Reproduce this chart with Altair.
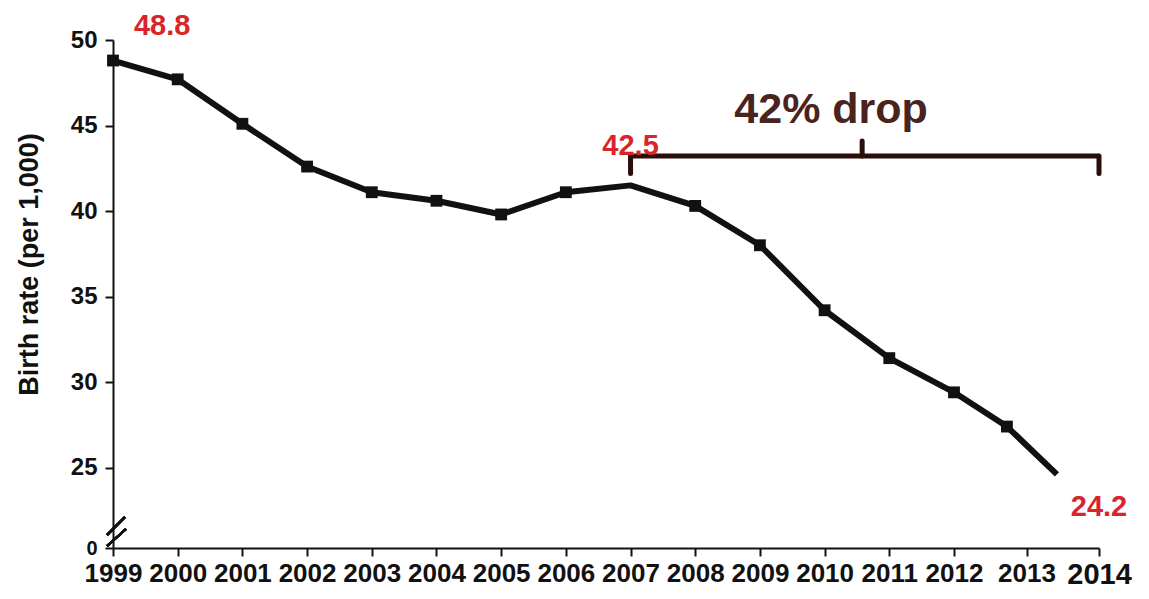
import altair as alt
import pandas as pd

# ---- data ----
years = list(range(1999, 2015))
# horizontal position of each point (years); the last two sit left of their ticks in the original
year_pos = [1999, 2000, 2001, 2002, 2003, 2004, 2005, 2006, 2007, 2008,
            2009, 2010, 2011, 2012, 2012.73, 2013.42]
birth_rate = [48.8, 47.7, 45.1, 42.6, 41.1, 40.6, 39.8, 41.1, 41.5, 40.3,
              38.0, 34.2, 31.4, 29.4, 27.4, 24.6]
has_marker = [True] * 8 + [False] + [True] * 6 + [False]

callout_text = ["48.8", "42.5", "24.2"]
callout_x = [1999.76, 2007.0, 2014.0]
callout_y = [50.3, 43.3, 22.15]

drop_text = ["42% drop"]
drop_x = [2010.1]
drop_y = [45.15]

bracket_left, bracket_right, bracket_mid = 2007.0, 2014.0, 2010.58
bracket_bar, bracket_hook, bracket_top = 43.22, 42.2, 44.1

y_ticks = [20.3, 25, 30, 35, 40, 45, 50]   # 20.3 = bottom of broken axis, labelled "0"
Y_BOTTOM = 20.3
Y_TOP = 50

FONT = "Liberation Sans"
INK = "#111111"
RED = "#d9252a"
BROWN = "#4a231d"
BRACKET = "#2a0e0a"

df = pd.DataFrame({"year": years, "pos": year_pos, "rate": birth_rate, "marker": has_marker})
callouts = pd.DataFrame({"label": callout_text, "pos": callout_x, "rate": callout_y})
drop = pd.DataFrame({"label": drop_text, "pos": drop_x, "rate": drop_y})

W, H = 986, 508
x_scale = alt.Scale(domain=[1999, 2012, 2014], range=[0, 841, W], nice=False, zero=False)
y_scale = alt.Scale(domain=[Y_BOTTOM, Y_TOP], nice=False, zero=False)

x_axis = alt.Axis(
    values=years, format="d", title=None, grid=False,
    labelFont=FONT, labelFontWeight="bold", labelColor=INK,
    labelFontSize={"condition": {"test": "datum.value == 2014", "value": 29}, "value": 26},
    labelPadding=4, labelFlush=False, labelOverlap=False,
    tickSize=8, tickWidth=2, tickColor=INK, domainColor=INK, domainWidth=2,
)
y_axis = alt.Axis(
    values=y_ticks, grid=False,
    labelExpr="datum.value < 21 ? '0' : format(datum.value, 'd')",
    labelFont=FONT, labelFontWeight="bold", labelColor=INK,
    labelFontSize={"condition": {"test": "datum.value < 21", "value": 20}, "value": 24},
    labelPadding=8, tickSize=8, tickWidth=2, tickColor=INK, domainColor=INK, domainWidth=2,
    title="Birth rate (per 1,000)", titleFont=FONT, titleFontWeight="bold",
    titleFontSize=27, titleColor=INK, titleAngle=-90, titleX=-84, titleY=224,
    titleAlign="center", titleBaseline="middle",
)


def X(field="pos:Q"):
    return alt.X(field, scale=x_scale, axis=x_axis, title=None)


def Y(field="rate:Q"):
    return alt.Y(field, scale=y_scale, axis=y_axis, title="Birth rate (per 1,000)")


base = alt.Chart(df)

line = base.mark_line(color=INK, strokeWidth=6, interpolate="linear", strokeJoin="round").encode(
    x=X(), y=Y(),
)

points = base.mark_point(shape="square", filled=True, size=140, color=INK, opacity=1).encode(
    x=X(), y=Y(),
).transform_filter("datum.marker")

red_labels = alt.Chart(callouts).mark_text(
    font=FONT, fontWeight="bold", fontSize=29, color=RED, align="center", baseline="alphabetic"
).encode(x=X(), y=Y(), text="label:N")

drop_label = alt.Chart(drop).mark_text(
    font=FONT, fontWeight="bold", fontSize=43, color=BROWN, align="center", baseline="alphabetic"
).encode(x=X(), y=Y(), text="label:N")

bracket_h = pd.DataFrame({"pos": [bracket_left], "pos2": [bracket_right], "rate": [bracket_bar]})
bracket_v = pd.DataFrame({
    "pos": [bracket_left, bracket_right, bracket_mid],
    "rate": [bracket_hook, bracket_hook, bracket_bar],
    "rate2": [bracket_bar, bracket_bar, bracket_top],
})

bar = alt.Chart(bracket_h).mark_rule(color=BRACKET, strokeWidth=5).encode(
    x=X(), x2="pos2:Q", y=Y(),
)
hooks = alt.Chart(bracket_v).mark_rule(color=BRACKET, strokeWidth=5, strokeCap="round").encode(
    x=X(), y=Y(), y2="rate2:Q",
)

# axis-break marks ("//") on the y axis
brk1 = alt.Chart(df).mark_rule(color=INK, strokeWidth=2).encode(
    x=alt.value(-6), x2=alt.value(12), y=alt.value(495), y2=alt.value(477))
brk2 = alt.Chart(df).mark_rule(color=INK, strokeWidth=2).encode(
    x=alt.value(-6), x2=alt.value(13), y=alt.value(506), y2=alt.value(489))

chart = alt.layer(line, points, bar, hooks, red_labels, drop_label, brk1, brk2).properties(
    width=W, height=H,
    autosize=alt.AutoSizeParams(type="none"),
    padding={"left": 105, "top": 32, "right": 42, "bottom": 43},
    background="white",
).configure_view(stroke=None)

chart.save("out.html", embed_options={"renderer": "svg", "actions": False})
